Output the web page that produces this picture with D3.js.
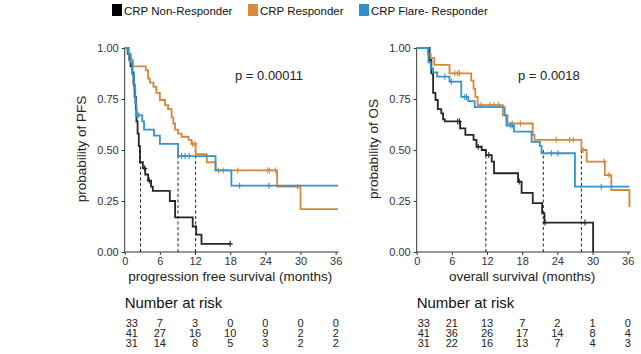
<!DOCTYPE html>
<html>
<head>
<meta charset="utf-8">
<script src="https://cdn.jsdelivr.net/npm/d3@7"></script>
<style>
  body { margin: 0; background: #fff; }
  svg { font-family: "Liberation Sans", Arial, Helvetica, sans-serif; }
</style>
</head>
<body>
<div id="chart"></div>
<script>
// groups, in legend order
const groupNames = ['CRP Non-Responder', 'CRP Responder', 'CRP Flare- Responder'];
const groupColors = ['#262626', '#D4883C', '#3594CC'];
const legendColors = ['#000000', '#DB8A3E', '#2F8FCA'];

// --- progression free survival (step times / survival after step / censor times / last time)
const pfsNonTimes = [0.5, 0.8, 1.0, 1.3, 1.5, 1.7, 1.9, 2.0, 2.2, 2.4, 2.6, 3.1, 3.5, 4.0, 4.5, 4.8, 7.7, 8.6, 11.6, 12.2, 13.1];
const pfsNonSurv  = [0.97, 0.94, 0.91, 0.88, 0.82, 0.76, 0.70, 0.64, 0.58, 0.52, 0.44, 0.41, 0.38, 0.35, 0.32, 0.30, 0.25, 0.17, 0.125, 0.085, 0.04];
const pfsNonCens  = [3.4, 4.2, 18.0];
const pfsNonEnd   = 18.0;

const pfsRespTimes = [0.6, 1.0, 1.4, 3.6, 4.0, 4.3, 4.9, 5.4, 6.0, 6.9, 7.4, 8.0, 8.3, 8.6, 9.1, 9.7, 10.9, 11.4, 12.1, 14.0, 15.5, 26.0, 30.0];
const pfsRespSurv  = [0.97, 0.94, 0.91, 0.89, 0.85, 0.83, 0.81, 0.78, 0.745, 0.72, 0.70, 0.66, 0.63, 0.60, 0.58, 0.565, 0.55, 0.53, 0.48, 0.44, 0.40, 0.32, 0.21];
const pfsRespCens  = [1.2, 11.6, 12.0, 16.0, 16.8, 19.3, 24.4, 24.7, 25.7, 29.5];
const pfsRespEnd   = 36.4;

const pfsFlareTimes = [0.7, 1.0, 1.3, 1.6, 1.8, 2.0, 3.0, 3.3, 5.0, 6.0, 9.1, 15.5, 18.2];
const pfsFlareSurv  = [0.97, 0.93, 0.87, 0.80, 0.73, 0.67, 0.64, 0.60, 0.57, 0.53, 0.47, 0.40, 0.325];
const pfsFlareCens  = [2.1, 2.4, 9.7, 10.3, 11.0, 19.6, 24.6];
const pfsFlareEnd   = 36.4;

// --- overall survival
const osNonTimes = [2.2, 2.5, 2.8, 3.2, 3.6, 4.2, 4.5, 4.8, 7.4, 8.3, 9.7, 10.2, 11.1, 11.8, 12.8, 13.2, 17.3, 17.9, 19.8, 21.4, 21.8, 30.1];
const osNonSurv  = [0.94, 0.876, 0.78, 0.745, 0.70, 0.68, 0.65, 0.64, 0.606, 0.574, 0.55, 0.516, 0.50, 0.475, 0.443, 0.386, 0.345, 0.29, 0.24, 0.19, 0.144, 0];
const osNonCens  = [7.0, 7.3, 10.5, 12.3, 17.5, 21.9, 28.7];
const osNonEnd   = 30.1;

const osRespTimes = [1.9, 2.4, 3.0, 5.6, 9.3, 9.7, 10.0, 10.4, 14.7, 15.5, 19.8, 20.1, 28.1, 29.0, 32.1, 33.2, 36.3];
const osRespSurv  = [0.97, 0.95, 0.917, 0.876, 0.84, 0.80, 0.76, 0.72, 0.67, 0.63, 0.574, 0.55, 0.50, 0.443, 0.377, 0.304, 0.22];
const osRespCens  = [6.5, 7.0, 7.3, 11.0, 12.5, 13.2, 14.0, 16.3, 17.7, 23.8, 26.1, 26.7, 28.4, 32.0, 32.8];
const osRespEnd   = 36.3;

const osFlareTimes = [2.0, 2.4, 2.8, 3.5, 5.6, 7.6, 8.8, 9.9, 15.0, 15.3, 16.6, 19.6, 21.0, 21.3, 27.0];
const osFlareSurv  = [0.93, 0.90, 0.88, 0.86, 0.835, 0.76, 0.74, 0.71, 0.67, 0.62, 0.59, 0.54, 0.52, 0.484, 0.32];
const osFlareCens  = [4.8, 5.9, 8.2, 8.5, 16.0, 16.3, 23.0, 24.1, 31.5];
const osFlareEnd   = 36.3;

// median survival lines
const pfsMedians = [2.7, 9.1, 12.1];
const osMedians  = [11.8, 21.6, 28.1];

// number at risk
const riskTimes = [0, 6, 12, 18, 24, 30, 36];
const pfsRisk = [
  [33, 7, 3, 0, 0, 0, 0],
  [41, 27, 16, 10, 9, 2, 2],
  [31, 14, 8, 5, 3, 2, 2]
];
const osRisk = [
  [33, 21, 13, 7, 2, 1, 0],
  [41, 36, 26, 17, 14, 8, 4],
  [31, 22, 16, 13, 7, 4, 3]
];

const xTicks = [0, 6, 12, 18, 24, 30, 36];
const yTicks = [0, 0.25, 0.5, 0.75, 1];

const svg = d3.select('#chart').append('svg')
  .attr('width', 641)
  .attr('height', 354);

class KMPanel {
  constructor(_config, _groups) {
    this.config = _config;
    this.groups = _groups;
    this.initVis();
  }

  initVis() {
    let vis = this;
    const c = vis.config;
    vis.width = 211;
    vis.top = 48;
    vis.bottom = 252;

    vis.x = d3.scaleLinear().domain([0, 36]).range([c.left, c.left + vis.width]);
    vis.y = d3.scaleLinear().domain([0, 1]).range([vis.bottom, vis.top]);

    vis.g = svg.append('g');

    // axes
    const xAxis = d3.axisBottom(vis.x).tickValues(xTicks).tickSize(3).tickPadding(2).tickSizeOuter(0);
    const yAxis = d3.axisLeft(vis.y).tickValues(yTicks).tickSize(3).tickPadding(3)
      .tickFormat(d3.format('.2f')).tickSizeOuter(0);

    vis.xAxisG = vis.g.append('g')
      .attr('transform', `translate(0,${vis.bottom})`)
      .call(xAxis);
    vis.yAxisG = vis.g.append('g')
      .attr('transform', `translate(${c.left},0)`)
      .call(yAxis);

    [vis.xAxisG, vis.yAxisG].forEach(a => {
      a.select('.domain').remove();
      a.selectAll('.tick line').attr('stroke', '#333');
      a.selectAll('.tick text')
        .attr('fill', '#333')
        .style('font-size', '11px')
        .style('font-family', '"Liberation Sans", Arial, sans-serif');
    });

    // axis lines
    vis.g.append('line')
      .attr('x1', vis.x(0)).attr('x2', vis.x(36.5))
      .attr('y1', vis.bottom).attr('y2', vis.bottom)
      .attr('stroke', '#333');
    vis.g.append('line')
      .attr('x1', c.left).attr('x2', c.left)
      .attr('y1', vis.top).attr('y2', vis.bottom)
      .attr('stroke', '#333');

    // axis titles
    vis.g.append('text')
      .attr('transform', `translate(${c.left - 43},${(vis.top + vis.bottom) / 2 - 1}) rotate(-90)`)
      .attr('text-anchor', 'middle')
      .attr('dominant-baseline', 'central')
      .style('font-size', '13.5px')
      .attr('fill', '#222')
      .text(c.yLabel);

    vis.g.append('text')
      .attr('x', vis.x(18))
      .attr('y', 281)
      .attr('text-anchor', 'middle')
      .style('font-size', '13.5px')
      .attr('fill', '#222')
      .text(c.xLabel);

    // p value
    vis.g.append('text')
      .attr('x', c.pX)
      .attr('y', 80)
      .style('font-size', '13px')
      .attr('fill', '#222')
      .text(c.pValue);

    vis.renderVis();
  }

  stepValue(grp, t) {
    let s = 1;
    grp.times.forEach((tt, i) => { if (tt <= t) s = grp.surv[i]; });
    return s;
  }

  renderVis() {
    let vis = this;
    const c = vis.config;

    // median lines
    vis.g.selectAll('.median')
      .data(c.medians)
      .join('line')
      .attr('class', 'median')
      .attr('x1', d => vis.x(d)).attr('x2', d => vis.x(d))
      .attr('y1', vis.y(0)).attr('y2', vis.y(0.5))
      .attr('stroke', '#222')
      .attr('stroke-width', 1)
      .attr('stroke-dasharray', '3,2.5');

    const line = d3.line()
      .x(d => vis.x(d[0]))
      .y(d => vis.y(d[1]))
      .curve(d3.curveStepAfter);

    vis.groups.forEach((grp, gi) => {
      const pts = [[0, 1]].concat(grp.times.map((t, i) => [t, grp.surv[i]]));
      const last = pts[pts.length - 1];
      if (grp.end > last[0]) pts.push([grp.end, last[1]]);

      vis.g.append('path')
        .datum(pts)
        .attr('fill', 'none')
        .attr('stroke', grp.color)
        .attr('stroke-width', 1.8)
        .attr('d', line);

      // censor marks
      vis.g.selectAll(`.cens${gi}`)
        .data(grp.censor)
        .join('path')
        .attr('class', `cens${gi}`)
        .attr('transform', d => `translate(${vis.x(d)},${vis.y(vis.stepValue(grp, d))})`)
        .attr('d', 'M-2.5,0H2.5M0,-3V3')
        .attr('stroke', grp.color)
        .attr('stroke-width', 1.1);
    });

    // number at risk table
    vis.g.append('text')
      .attr('x', c.left)
      .attr('y', 308)
      .style('font-size', '15px')
      .attr('fill', '#111')
      .text('Number at risk');

    c.risk.forEach((row, ri) => {
      vis.g.selectAll(`.risk${ri}`)
        .data(row)
        .join('text')
        .attr('class', `risk${ri}`)
        .attr('x', (d, i) => vis.x(riskTimes[i]) + (i === 0 ? 1 : 0))
        .attr('y', 327 + ri * 10)
        .attr('text-anchor', (d, i) => i === 0 ? 'start' : 'middle')
        .style('font-size', '11px')
        .attr('fill', '#222')
        .text(d => d);
    });
  }
}

new KMPanel({
  left: 124.7,
  yLabel: 'probability of PFS',
  xLabel: 'progression free survival (months)',
  pValue: 'p = 0.00011',
  pX: 235,
  medians: pfsMedians,
  risk: pfsRisk
}, [
  { color: groupColors[0], times: pfsNonTimes, surv: pfsNonSurv, censor: pfsNonCens, end: pfsNonEnd },
  { color: groupColors[1], times: pfsRespTimes, surv: pfsRespSurv, censor: pfsRespCens, end: pfsRespEnd },
  { color: groupColors[2], times: pfsFlareTimes, surv: pfsFlareSurv, censor: pfsFlareCens, end: pfsFlareEnd }
]);

new KMPanel({
  left: 416.7,
  yLabel: 'probability of OS',
  xLabel: 'overall survival (months)',
  pValue: 'p = 0.0018',
  pX: 518,
  medians: osMedians,
  risk: osRisk
}, [
  { color: groupColors[0], times: osNonTimes, surv: osNonSurv, censor: osNonCens, end: osNonEnd },
  { color: groupColors[1], times: osRespTimes, surv: osRespSurv, censor: osRespCens, end: osRespEnd },
  { color: groupColors[2], times: osFlareTimes, surv: osFlareSurv, censor: osFlareCens, end: osFlareEnd }
]);

// legend
const legendX = [112, 248, 359];
const legend = svg.append('g');
groupNames.forEach((name, i) => {
  legend.append('rect')
    .attr('x', legendX[i]).attr('y', 4)
    .attr('width', 10).attr('height', 12)
    .attr('fill', legendColors[i]);
  legend.append('text')
    .attr('x', legendX[i] + 12).attr('y', 14.5)
    .style('font-size', '11.5px')
    .attr('fill', '#111')
    .text(name);
});
</script>
</body>
</html>
